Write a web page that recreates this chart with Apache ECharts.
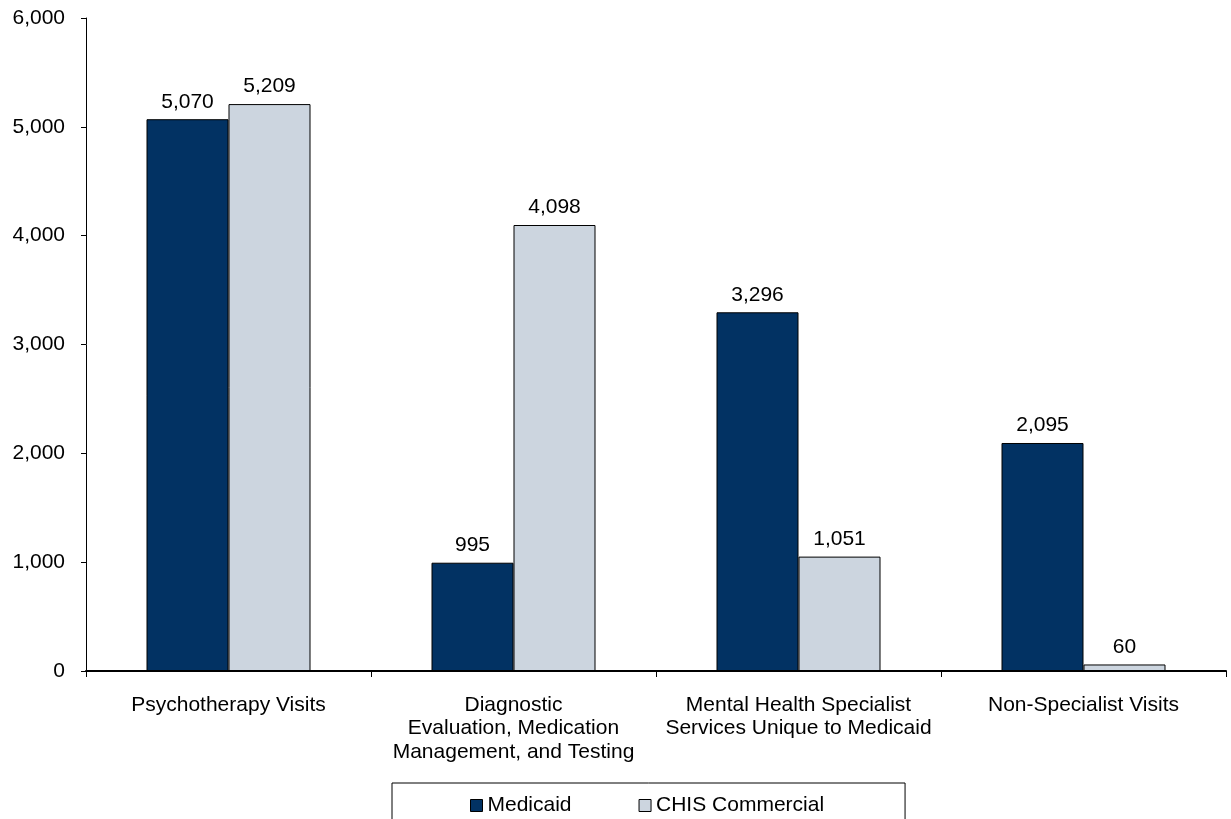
<!DOCTYPE html>
<html>
<head>
<meta charset="utf-8">
<script src="https://cdn.jsdelivr.net/npm/echarts@6/dist/echarts.min.js"></script>
<style>
html,body{margin:0;padding:0;background:#fff;}
#chart{width:1231px;height:819px;}
</style>
</head>
<body>
<div id="chart"></div>
<script>
const categories = [
  "Psychotherapy Visits",
  "Diagnostic\nEvaluation, Medication\nManagement, and Testing",
  "Mental Health Specialist\nServices Unique to Medicaid",
  "Non-Specialist Visits"
];
const medicaid = [5070, 995, 3296, 2095];
const chisCommercial = [5209, 4098, 1051, 60];
const seriesNames = ["Medicaid", "CHIS Commercial"];

const FONT = "'Liberation Sans', Arial, sans-serif";
const FS = 21;
const fmt = v => v.toLocaleString('en-US');

const chart = echarts.init(document.getElementById('chart'), null, {renderer: 'canvas'});
chart.setOption({
  animation: false,
  backgroundColor: '#ffffff',
  textStyle: {fontFamily: FONT, color: '#000'},
  grid: {left: 86, right: 5, top: 18, bottom: 148, containLabel: false},
  legend: {
    data: seriesNames,
    left: 392, top: 783,
    padding: [12, 81, 12, 78],
    borderColor: '#000', borderWidth: 1,
    itemWidth: 12, itemHeight: 12, itemGap: 67,
    icon: 'rect',
    textStyle: {fontFamily: FONT, fontSize: FS, color: '#000'},
    itemStyle: {borderColor: '#000', borderWidth: 1}
  },
  xAxis: {
    type: 'category',
    data: categories,
    axisLine: {lineStyle: {color: '#000', width: 2}},
    axisTick: {show: true, length: 6, lineStyle: {color: '#000', width: 1}},
    axisLabel: {fontFamily: FONT, fontSize: FS, color: '#000', lineHeight: 23.5, margin: 22, interval: 0}
  },
  yAxis: {
    type: 'value',
    min: 0, max: 6000, interval: 1000,
    splitLine: {show: false},
    axisLine: {show: true, lineStyle: {color: '#000', width: 1}},
    axisTick: {show: true, length: 5, lineStyle: {color: '#000'}},
    axisLabel: {fontFamily: FONT, fontSize: FS, color: '#000', margin: 21, formatter: v => fmt(v)}
  },
  series: [
    {
      name: seriesNames[0], type: 'bar', data: medicaid,
      barWidth: 82, barGap: '0%',
      itemStyle: {color: '#023263', borderColor: '#000', borderWidth: 1},
      label: {show: true, position: 'top', distance: 7, fontFamily: FONT, fontSize: FS, color: '#000', formatter: p => fmt(p.value)}
    },
    {
      name: seriesNames[1], type: 'bar', data: chisCommercial,
      barWidth: 82, barGap: '0%',
      itemStyle: {color: '#CCD5DF', borderColor: '#000', borderWidth: 1},
      label: {show: true, position: 'top', distance: 7, fontFamily: FONT, fontSize: FS, color: '#000', formatter: p => fmt(p.value)}
    }
  ]
});
</script>
</body>
</html>
